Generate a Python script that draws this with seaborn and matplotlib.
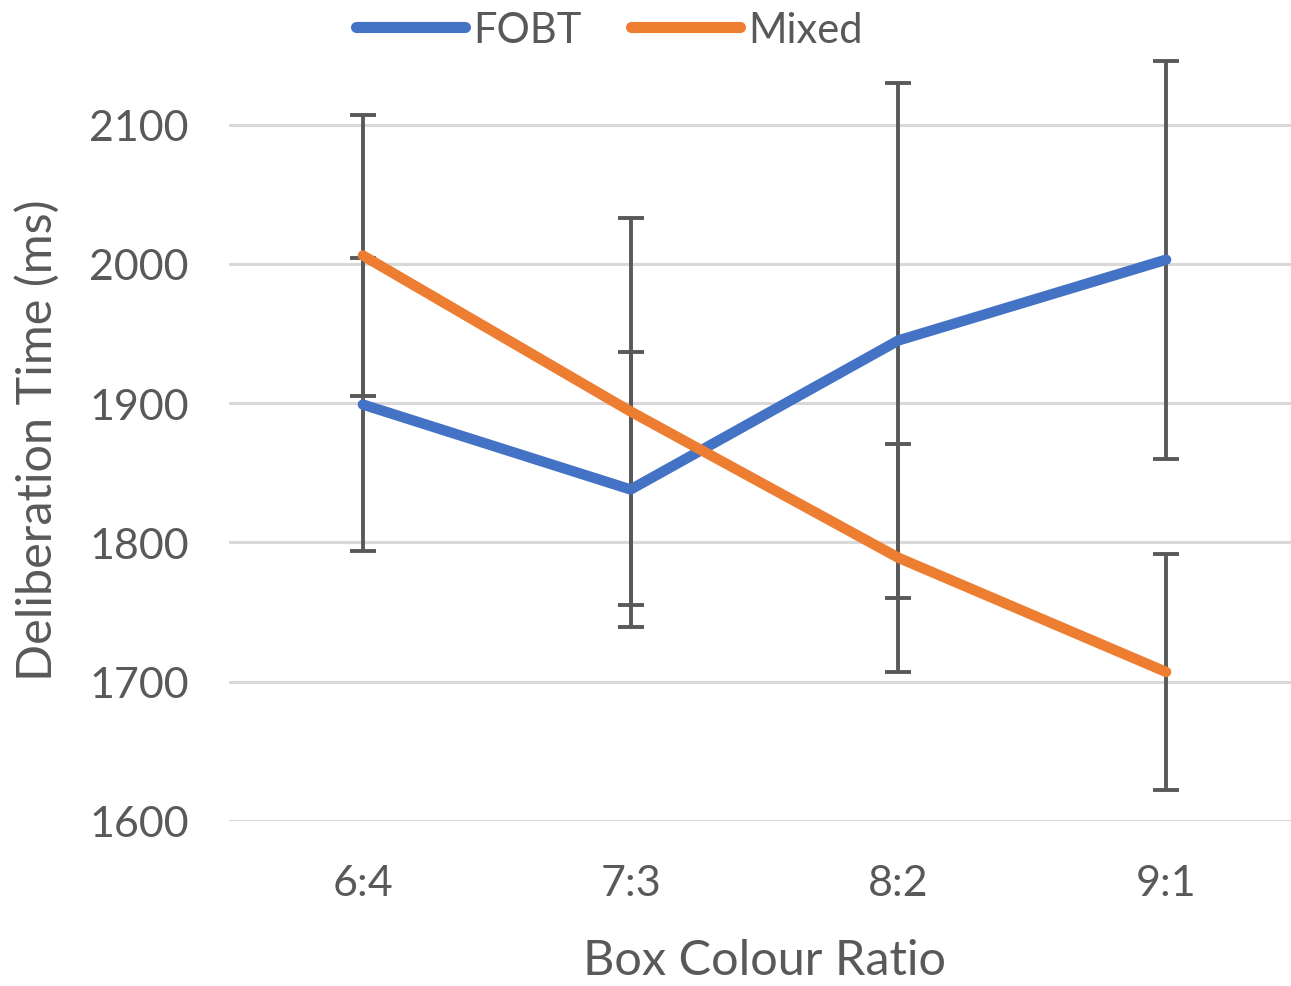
import matplotlib
matplotlib.use("Agg")
import matplotlib.pyplot as plt
from matplotlib.lines import Line2D
import numpy as np
import pandas as pd
import seaborn as sns

# Mean deliberation time per box colour ratio, with error-bar half-widths
ratios = ["6:4", "7:3", "8:2", "9:1"]
fobt_mean = [1899, 1838, 1945, 2003]
fobt_err = [105, 99, 185, 143]
mixed_mean = [2006, 1894, 1789, 1707]
mixed_err = [101, 139, 82, 85]
groups = ["FOBT", "Mixed"]
yticks = [1600, 1700, 1800, 1900, 2000, 2100]

colors = {"FOBT": "#4472C4", "Mixed": "#ED7D31"}
text_gray = "#595959"

df = pd.DataFrame({
    "ratio": ratios * 2,
    "time": fobt_mean + mixed_mean,
    "err": fobt_err + mixed_err,
    "group": ["FOBT"] * len(ratios) + ["Mixed"] * len(ratios),
})

sns.set_theme(style="white")
plt.rcParams["font.family"] = ["Lato", "DejaVu Sans"]

fig = plt.figure(figsize=(12.91, 9.87), dpi=100)
ax = fig.add_axes([229 / 1291, 165 / 987, 1071 / 1291, 835.7 / 987])

# error bars sit underneath the lines
xpos = np.arange(len(ratios))
for g in groups:
    sub = df[df["group"] == g]
    ax.errorbar(xpos, sub["time"], yerr=sub["err"], fmt="none",
                ecolor="#595959", elinewidth=2.8, capsize=9.5, capthick=2.8,
                zorder=2)

sns.lineplot(data=df, x="ratio", y="time", hue="group", palette=colors,
             linewidth=7.5, sort=False, legend=False, ax=ax, zorder=3)
for ln in ax.get_lines():
    ln.set_solid_capstyle("round")
    ln.set_solid_joinstyle("round")

ax.set_xlim(-0.5, 3.5)
ax.set_ylim(1600, 2200)
ax.set_yticks(yticks)
ax.set_yticklabels([str(v) for v in yticks])
ax.yaxis.grid(True, color="#D9D9D9", linewidth=2.2, zorder=0)
ax.set_axisbelow(True)
for s in ax.spines.values():
    s.set_visible(False)

ax.tick_params(axis="both", length=0, labelsize=31, colors=text_gray)
ax.tick_params(axis="y", pad=29)
ax.tick_params(axis="x", pad=31)

ax.set_xlabel("Box Colour Ratio", fontsize=35, color=text_gray, labelpad=26)
ax.set_ylabel("Deliberation Time (ms)", fontsize=35, color=text_gray)
ax.yaxis.set_label_coords(-0.158, 0.457)

handles = [Line2D([0], [0], color=colors[g], linewidth=8,
                  solid_capstyle="round") for g in groups]
leg = fig.legend(handles, groups, loc="center", bbox_to_anchor=(0.472, 0.969),
                 ncol=2, frameon=False, fontsize=30, handlelength=2.6,
                 handletextpad=0.2, columnspacing=1.2)
for t in leg.get_texts():
    t.set_color(text_gray)

fig.savefig("out.png", dpi=100)
